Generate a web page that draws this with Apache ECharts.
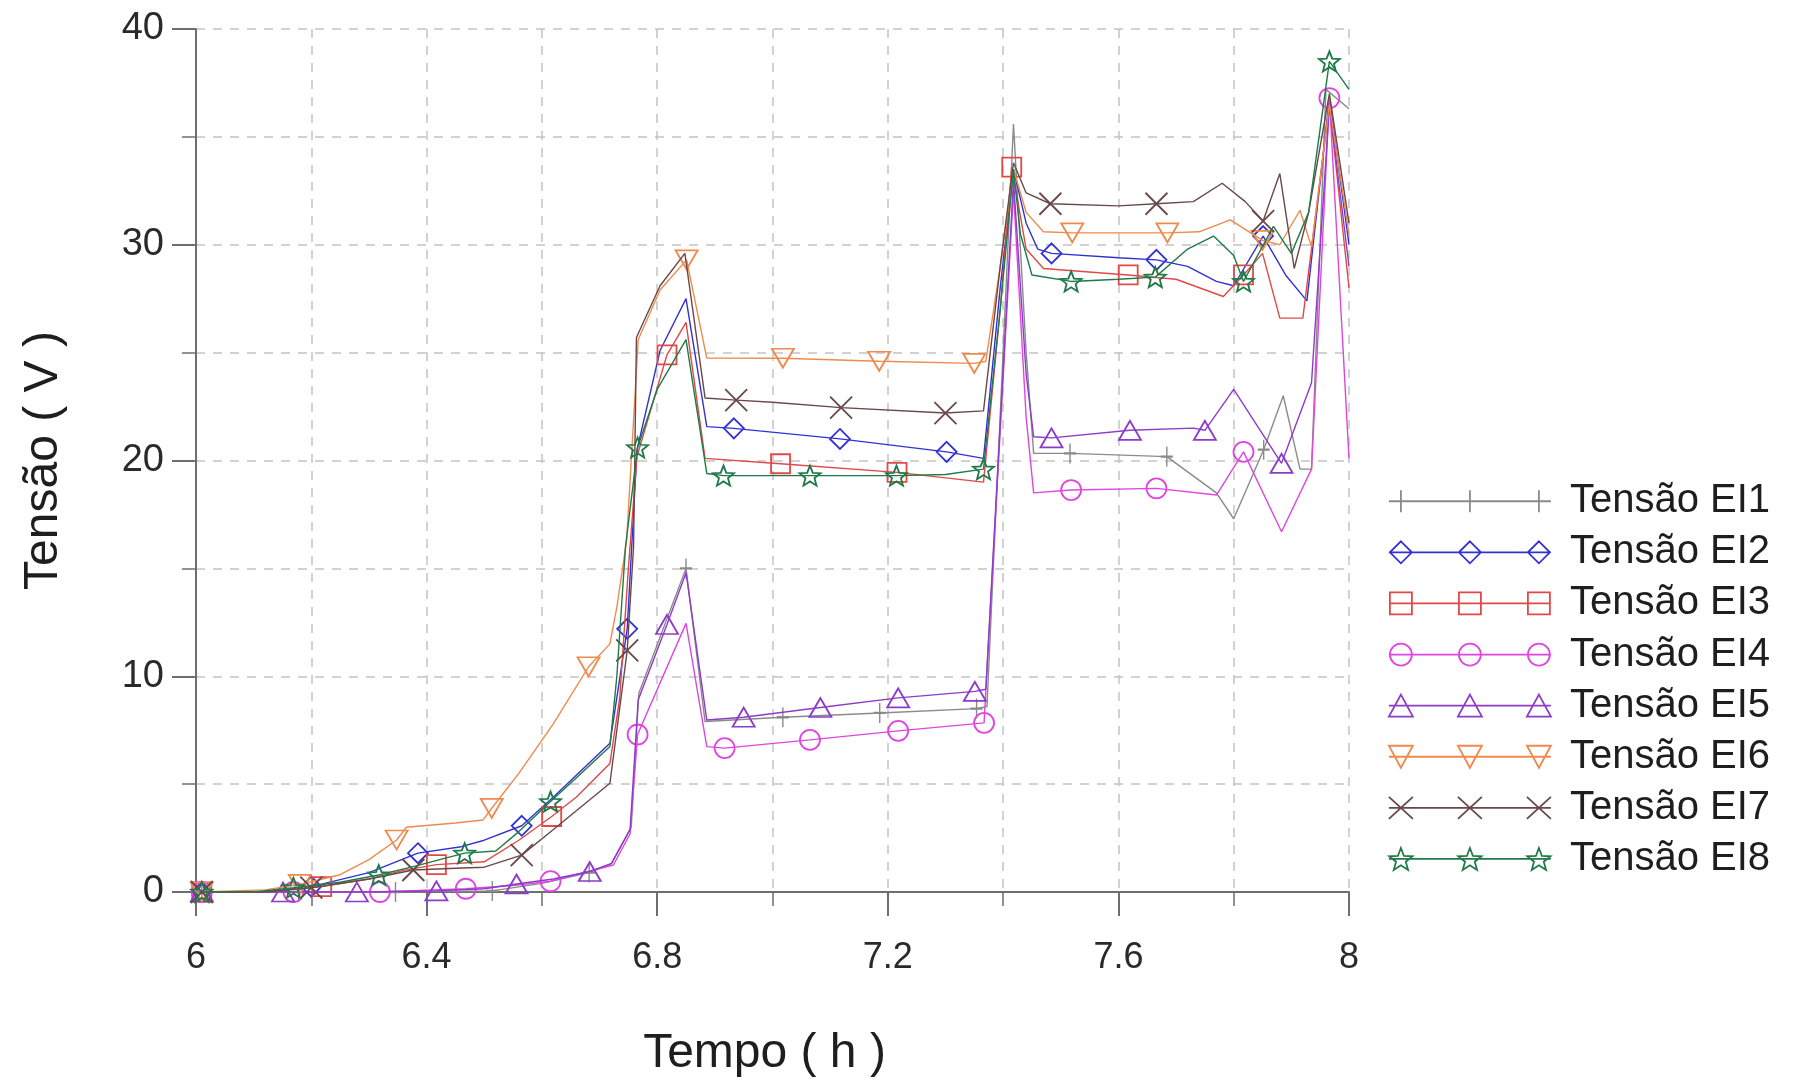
<!DOCTYPE html>
<html><head><meta charset="utf-8">
<script src="https://cdn.jsdelivr.net/npm/echarts@6/dist/echarts.min.js"></script>
<style>html,body{margin:0;padding:0;background:#fff}#c{width:1794px;height:1085px}</style>
</head><body><div id="c"></div>
<script>
// ---------------- DATA ----------------
const names = ['Tensão EI1','Tensão EI2','Tensão EI3','Tensão EI4','Tensão EI5','Tensão EI6','Tensão EI7','Tensão EI8'];
const xTicks = [6, 6.4, 6.8, 7.2, 7.6, 8];
const yTicks = [0, 10, 20, 30, 40];

// EI1
const t1 = [6.01,6.178,6.346,6.514,6.60,6.682,6.72,6.755,6.768,6.85,6.883,7.018,7.186,7.354,7.372,7.418,7.44,7.453,7.516,7.684,7.77,7.80,7.852,7.886,7.915,7.935,7.96,8.0];
const v1 = [0,0,0,0.05,0.4,0.9,1.3,3.0,9.2,15.0,7.9,8.1,8.3,8.5,8.6,35.6,25,20.33,20.33,20.18,18.5,17.3,20.5,23.0,19.6,19.6,37.2,36.3];
const mk1 = [6.01,6.178,6.346,6.514,6.682,6.85,7.018,7.186,7.354,7.516,7.684,7.852];
// EI2
const t2 = [6.01,6.12,6.20,6.30,6.385,6.46,6.50,6.565,6.62,6.718,6.748,6.765,6.805,6.85,6.886,6.933,7.117,7.302,7.366,7.395,7.418,7.44,7.46,7.484,7.60,7.666,7.72,7.77,7.80,7.851,7.89,7.927,7.966,8.0];
const v2 = [0,0,0.25,0.9,1.8,2.1,2.4,3.07,4.4,6.89,12.2,20.5,25.1,27.5,21.57,21.49,21.0,20.4,20.1,28,33.5,31.0,29.8,29.6,29.4,29.3,29.0,28.3,28.1,30.4,28.6,27.4,36.8,30.0];
const mk2 = [6.01,6.20,6.385,6.565,6.748,6.933,7.117,7.302,7.484,7.666,7.851];
// EI3
const t3 = [6.01,6.12,6.218,6.30,6.36,6.417,6.50,6.56,6.617,6.66,6.718,6.735,6.75,6.765,6.817,6.85,6.883,7.014,7.216,7.366,7.395,7.415,7.44,7.47,7.617,7.70,7.782,7.817,7.85,7.88,7.92,7.966,8.0];
const v3 = [0,0,0.25,0.6,1.0,1.27,1.4,2.4,3.5,4.4,5.96,9,15,20.2,24.9,26.4,20.1,19.85,19.45,19.0,27,33.6,29.8,28.9,28.6,28.4,27.6,28.6,29.6,26.6,26.6,36.5,28.0];
const mk3 = [6.01,6.218,6.417,6.617,6.817,7.014,7.216,7.415,7.617,7.817];
// EI4
const t4 = [6.01,6.169,6.319,6.468,6.55,6.615,6.724,6.753,6.766,6.85,6.886,6.917,7.065,7.218,7.367,7.418,7.44,7.453,7.518,7.666,7.77,7.817,7.883,7.935,7.966,8.0];
const v4 = [0,0,0,0.15,0.3,0.5,1.25,2.7,7.3,12.45,6.74,6.67,7.05,7.47,7.84,32.5,22,18.5,18.63,18.71,18.4,20.4,16.7,19.6,36.8,20.1];
const mk4 = [6.01,6.169,6.319,6.468,6.615,6.766,6.917,7.065,7.218,7.367,7.518,7.666,7.817,7.966];
// EI5
const t5 = [6.01,6.151,6.279,6.417,6.50,6.556,6.62,6.683,6.721,6.753,6.767,6.817,6.85,6.886,6.95,7.083,7.218,7.351,7.37,7.418,7.44,7.453,7.484,7.62,7.73,7.75,7.80,7.883,7.935,7.966,8.0];
const v5 = [0,0,0,0.05,0.15,0.37,0.6,0.95,1.33,2.9,8.9,12.4,14.8,7.97,8.1,8.55,9.0,9.3,9.4,33.0,24,21.1,21.05,21.4,21.5,21.4,23.3,19.87,23.6,36.5,29];
const mk5 = [6.01,6.151,6.279,6.417,6.556,6.683,6.817,6.95,7.083,7.218,7.351,7.484,7.62,7.75,7.883];
// EI6
const t6 = [6.01,6.12,6.18,6.25,6.30,6.348,6.365,6.45,6.498,6.513,6.56,6.62,6.681,6.718,6.73,6.747,6.767,6.805,6.851,6.886,7.018,7.185,7.35,7.37,7.395,7.418,7.44,7.47,7.52,7.685,7.74,7.794,7.85,7.88,7.915,7.935,7.966,8.0];
const v6 = [0,0.1,0.35,0.8,1.5,2.41,3.0,3.2,3.34,3.88,5.5,7.8,10.44,11.5,13.2,16.3,25.6,27.9,29.3,24.75,24.74,24.6,24.5,24.6,29,33.5,31.5,30.6,30.55,30.55,30.6,31.15,30.2,30.0,31.6,29.9,36.5,30.5];
const mk6 = [6.01,6.18,6.348,6.513,6.681,6.851,7.018,7.185,7.35,7.52,7.685,7.85];
// EI7
const t7 = [6.01,6.12,6.20,6.30,6.377,6.45,6.50,6.565,6.62,6.718,6.748,6.759,6.764,6.805,6.848,6.883,6.937,7.0,7.119,7.30,7.366,7.395,7.418,7.44,7.482,7.60,7.666,7.73,7.78,7.82,7.851,7.88,7.905,7.93,7.966,8.0];
const v7 = [0,0,0.2,0.6,1.02,1.1,1.15,1.71,2.9,5.04,11.2,16,25.7,28.1,29.6,22.9,22.8,22.7,22.45,22.2,22.3,29,33.8,32.4,31.9,31.8,31.9,32.0,32.85,32.0,31.1,33.3,28.9,31.5,37.0,31];
const mk7 = [6.01,6.20,6.377,6.565,6.748,6.937,7.119,7.30,7.482,7.666,7.851];
// EI8
const t8 = [6.01,6.10,6.169,6.25,6.317,6.38,6.466,6.52,6.56,6.615,6.66,6.718,6.73,6.745,6.766,6.80,6.85,6.886,6.915,7.065,7.215,7.30,7.366,7.395,7.418,7.43,7.45,7.518,7.60,7.664,7.72,7.765,7.80,7.817,7.869,7.90,7.93,7.966,8.0];
const v8 = [0,0,0.2,0.45,0.79,1.2,1.8,1.9,2.8,4.19,5.3,6.74,10,16,20.6,23.3,25.6,19.4,19.3,19.3,19.3,19.35,19.6,27,33.5,30.5,28.6,28.3,28.4,28.5,29.8,30.4,29.5,28.3,30.85,29.6,31.5,38.5,37.2];
const mk8 = [6.01,6.169,6.317,6.466,6.615,6.766,6.915,7.065,7.215,7.366,7.518,7.664,7.817,7.966];

// ---------------- STYLE ----------------
const T = [t1,t2,t3,t4,t5,t6,t7,t8];
const V = [v1,v2,v3,v4,v5,v6,v7,v8];
const MK = [mk1,mk2,mk3,mk4,mk5,mk6,mk7,mk8];
const colors = ['#8a8a8a','#3232d2','#e24848','#e045e0','#8c3cc8','#ef8a4e','#6a4848','#1f7a48'];
const FONT = '"Liberation Sans", Arial, sans-serif';

function starPath(cx, cy, R, r) {
  let s = '';
  for (let k = 0; k < 10; k++) {
    const a = -Math.PI / 2 + k * Math.PI / 5;
    const rr = k % 2 ? r : R;
    s += (k ? 'L' : 'M') + (cx + rr * Math.cos(a)).toFixed(2) + ' ' + (cy + rr * Math.sin(a)).toFixed(2) + ' ';
  }
  return s + 'Z ';
}
const kinds = ['plus','diamond','square','circle','tri','dtri','x','star'];
const symbols = [
  'path://M6 0 L6 20 M0 10 L12 10',
  'diamond',
  'rect',
  'circle',
  'triangle',
  'path://M0 0 L20 0 L10 18 Z',
  'path://M0 0 L10 10 M10 0 L0 10',
  'path://' + starPath(10, 10, 10, 4.3)
];
const symSizes = [[12,20],[20,20],[19,19],[20,20],[22,19],[22,19],[22,22],[21,20]];

const LW = 162, LC = [12, 81, 150];
function legendIcon(kind) {
  let p = 'M0 11 L' + LW + ' 11 ';
  for (const c of LC) {
    if (kind === 'plus') p += `M${c} 0 L${c} 22 `;
    else if (kind === 'diamond') p += `M${c} 0 L${c+11} 11 L${c} 22 L${c-11} 11 Z `;
    else if (kind === 'square') p += `M${c-11} 0 L${c+11} 0 L${c+11} 22 L${c-11} 22 Z `;
    else if (kind === 'circle') p += `M${c-11} 11 A11 11 0 1 0 ${c+11} 11 A11 11 0 1 0 ${c-11} 11 Z `;
    else if (kind === 'tri') p += `M${c} 0 L${c+12} 22 L${c-12} 22 Z `;
    else if (kind === 'dtri') p += `M${c-12} 0 L${c+12} 0 L${c} 22 Z `;
    else if (kind === 'x') p += `M${c-12} 0 L${c+12} 22 M${c+12} 0 L${c-12} 22 `;
    else if (kind === 'star') p += starPath(c, 12.16, 12.16, 5.1);
  }
  return 'path://' + p;
}

const series = names.map((n, i) => {
  const mset = MK[i];
  const data = T[i].map((x, j) => mset.indexOf(x) >= 0 ? [x, V[i][j]] : { value: [x, V[i][j]], symbol: 'none' });
  return {
    name: n, type: 'line', data: data,
    symbol: symbols[i], symbolSize: symSizes[i], showAllSymbol: true,
    lineStyle: { color: colors[i], width: 1.4 },
    itemStyle: { color: 'rgba(255,255,255,0)', borderColor: colors[i], borderWidth: 1.8 },
    emphasis: { disabled: true },
    z: 3 + i
  };
});

const gridLine = { show: true, lineStyle: { color: '#c4c4c4', type: [9, 8], width: 1.5 } };
const axisCol = '#6e6e6e';

const chart = echarts.init(document.getElementById('c'), null, { renderer: 'canvas' });
chart.setOption({
  animation: false,
  backgroundColor: '#ffffff',
  grid: { left: 196, top: 29, width: 1153, height: 863, containLabel: false, outerBoundsMode: 'none' },
  xAxis: {
    type: 'value', min: xTicks[0], max: xTicks[xTicks.length - 1], interval: 0.4,
    name: 'Tempo ( h )', nameLocation: 'middle', nameGap: 138,
    nameTextStyle: { fontSize: 48, color: '#1e1e1e', fontFamily: FONT, padding: [0, 16, 0, 0] },
    axisLine: { show: true, onZero: false, lineStyle: { color: axisCol, width: 2 } },
    axisTick: { show: true, inside: false, length: 24, lineStyle: { color: axisCol, width: 2 } },
    minorTick: { show: true, splitNumber: 2, length: 14, lineStyle: { color: axisCol, width: 1.5 } },
    axisLabel: { fontSize: 36, color: '#2a2a2a', margin: 48, fontFamily: FONT,
      formatter: v => String(Math.round(v * 10) / 10) },
    splitLine: gridLine, minorSplitLine: gridLine
  },
  yAxis: {
    type: 'value', min: yTicks[0], max: yTicks[yTicks.length - 1], interval: 10,
    name: 'Tensão ( V )', nameLocation: 'middle', nameGap: 128,
    nameTextStyle: { fontSize: 48, color: '#1e1e1e', fontFamily: FONT },
    axisLine: { show: true, lineStyle: { color: axisCol, width: 2 } },
    axisTick: { show: true, inside: false, length: 24, lineStyle: { color: axisCol, width: 2 } },
    minorTick: { show: true, splitNumber: 2, length: 14, lineStyle: { color: axisCol, width: 1.5 } },
    axisLabel: { fontSize: 38, color: '#2a2a2a', margin: 32, fontFamily: FONT },
    splitLine: gridLine, minorSplitLine: gridLine
  },
  legend: {
    orient: 'vertical', left: 1383, top: 476,
    itemWidth: 190, itemHeight: 22, itemGap: 10.6,
    selectedMode: false,
    textStyle: { fontSize: 40, color: '#1e1e1e', fontFamily: FONT, lineHeight: 40.5 },
    data: names.map((n, i) => ({
      name: n, icon: legendIcon(kinds[i]),
      itemStyle: { color: 'rgba(255,255,255,0)', borderColor: colors[i], borderWidth: 1.8 }
    }))
  },
  tooltip: { show: false },
  series: series
});
</script>
</body></html>
